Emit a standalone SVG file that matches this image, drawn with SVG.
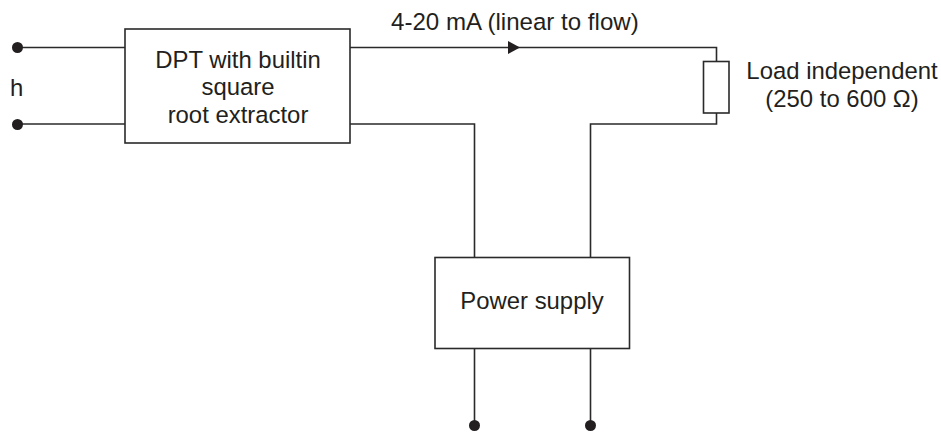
<svg xmlns="http://www.w3.org/2000/svg" width="941" height="433" viewBox="0 0 941 433">
<style>
.box{fill:#fff;stroke:#2a2a2a;stroke-width:1.6}
.wire{fill:none;stroke:#2a2a2a;stroke-width:1.6}
.dot{fill:#231f20}
text{font-family:"Liberation Sans",Arial,sans-serif;font-size:23.9px;fill:#231f20}
.m{text-anchor:middle}
</style>
<rect width="941" height="433" fill="#fff"/>
<g id="connectors">
<path class="wire" d="M17.5 47.5H125"/>
<path class="wire" d="M17.5 124H125"/>
<path class="wire" d="M350 47.5H716.5V61.5"/>
<path class="wire" d="M716.5 113V124H590.5V257.5"/>
<path class="wire" d="M350 124H474.5V257.5"/>
<path class="wire" d="M474.5 348.5V425"/>
<path class="wire" d="M590.5 348.5V425"/>
<polygon class="dot" points="508,41 520,47.5 508,54"/>
<circle class="dot" cx="17.5" cy="47.5" r="5.5"/>
<circle class="dot" cx="17.5" cy="124.5" r="5.5"/>
<circle class="dot" cx="474.5" cy="425.5" r="5.5"/>
<circle class="dot" cx="590.5" cy="425.5" r="5.5"/>
</g>
<g id="label-h"><text x="10" y="96">h</text></g>
<g id="dpt">
<rect class="box" x="125" y="29" width="225" height="114"/>
<text class="m" x="238" y="68">DPT with builtin</text>
<text class="m" x="238" y="95">square</text>
<text class="m" x="238" y="123">root extractor</text>
</g>
<g id="label-signal"><text x="391" y="30" style="font-size:24.1px">4-20 mA (linear to flow)</text></g>
<g id="load">
<rect class="box" x="703.5" y="61.5" width="25.5" height="51.5"/>
<text class="m" x="842" y="79">Load independent</text>
<text class="m" x="842" y="107">(250 to 600 Ω)</text>
</g>
<g id="power">
<rect class="box" x="435" y="257.5" width="194.5" height="91"/>
<text class="m" x="532" y="309">Power supply</text>
</g>
</svg>
